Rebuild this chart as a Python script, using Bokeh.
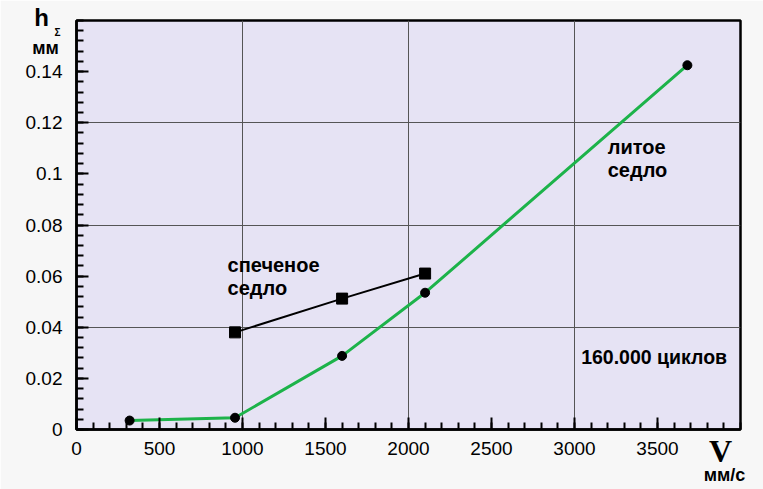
from bokeh.plotting import figure
from bokeh.models import Range1d, Label, FixedTicker, CustomJSTickFormatter
from bokeh.embed import file_html
from bokeh.resources import INLINE

# Wear depth h_Σ (mm) against sliding speed V (mm/s), 160 000 cycles
cast_v = [320, 955, 1600, 2100, 3680]
cast_h = [0.0035, 0.0046, 0.0288, 0.0535, 0.1425]

sintered_v = [955, 1600, 2100]
sintered_h = [0.038, 0.0512, 0.061]

x_ticks = [0, 500, 1000, 1500, 2000, 2500, 3000, 3500]
y_ticks = [0, 0.02, 0.04, 0.06, 0.08, 0.1, 0.12, 0.14]

FONT = "Liberation Sans"

p = figure(width=763, height=489, output_backend="svg", toolbar_location=None,
           x_range=Range1d(0, 4000), y_range=Range1d(0, 0.16),
           min_border_left=76, min_border_right=23, min_border_top=20,
           min_border_bottom=60)

p.background_fill_color = "#e6e3f4"
p.border_fill_color = "#f7f7f7"
p.outline_line_color = "black"
p.outline_line_width = 2.5

# axes: inward ticks, major every 500 / 0.02, minor every 100 / 0.004
p.xaxis.ticker = FixedTicker(ticks=x_ticks,
                             minor_ticks=[i * 100 for i in range(41)])
p.yaxis.ticker = FixedTicker(ticks=y_ticks,
                             minor_ticks=[round(i * 0.004, 3) for i in range(41)])
p.yaxis.formatter = CustomJSTickFormatter(
    code="return tick == 0 ? '0' : String(+tick.toFixed(2));")
for ax in (p.xaxis[0], p.yaxis[0]):
    ax.major_tick_in = 12
    ax.major_tick_out = 0
    ax.minor_tick_in = 7
    ax.minor_tick_out = 0
    ax.major_tick_line_width = 2
    ax.minor_tick_line_width = 2
    ax.axis_line_width = 2.5
    ax.major_label_text_font = FONT
    ax.major_label_text_font_size = "19px"
    ax.major_label_text_color = "black"
p.xaxis.major_label_standoff = 12
p.yaxis.major_label_standoff = 14

# grid only every 1000 / 0.04
p.xgrid.ticker = FixedTicker(ticks=[1000, 2000, 3000])
p.ygrid.ticker = FixedTicker(ticks=[0.04, 0.08, 0.12])
p.xgrid.grid_line_color = "#555555"
p.ygrid.grid_line_color = "#555555"
p.xgrid.grid_line_width = 1
p.ygrid.grid_line_width = 1

# series
p.line(sintered_v, sintered_h, line_color="black", line_width=2)
p.scatter(sintered_v, sintered_h, marker="square", size=11, color="black")
p.line(cast_v, cast_h, line_color="#1db34a", line_width=3)
p.scatter(cast_v, cast_h, marker="circle", size=9, color="black")


def make_label(x, y, text, size, font=FONT, align="left", units="data"):
    return Label(x=x, y=y, text=text, text_font=font,
                 x_units=units, y_units=units,
                 text_font_size=size, text_font_style="bold",
                 text_color="black", text_align=align,
                 text_baseline="middle")


# curve captions inside the frame
for lbl in (make_label(910, 0.0645, "спеченое", "20px"),
            make_label(910, 0.0555, "седло", "20px"),
            make_label(3200, 0.1105, "литое", "20px"),
            make_label(3200, 0.1015, "седло", "20px"),
            make_label(3040, 0.0285, "160.000 циклов", "19.5px")):
    p.add_layout(lbl)

# axis captions live in the side panels (screen offsets from each panel box)
p.add_layout(make_label(34, 412, "h", "24px", align="center", units="screen"), "left")
p.add_layout(make_label(56, 397, "Σ", "10px", align="center", units="screen"), "left")
p.add_layout(make_label(-31, -27, "мм", "18px", align="center", units="screen"), "above")
p.add_layout(make_label(-20, -21, "V", "32px", font="Liberation Serif",
                        align="center", units="screen"), "right")
p.add_layout(make_label(648, 3, "мм/с", "18px", align="center", units="screen"), "below")

open("out.html", "w").write(file_html(p, INLINE))
